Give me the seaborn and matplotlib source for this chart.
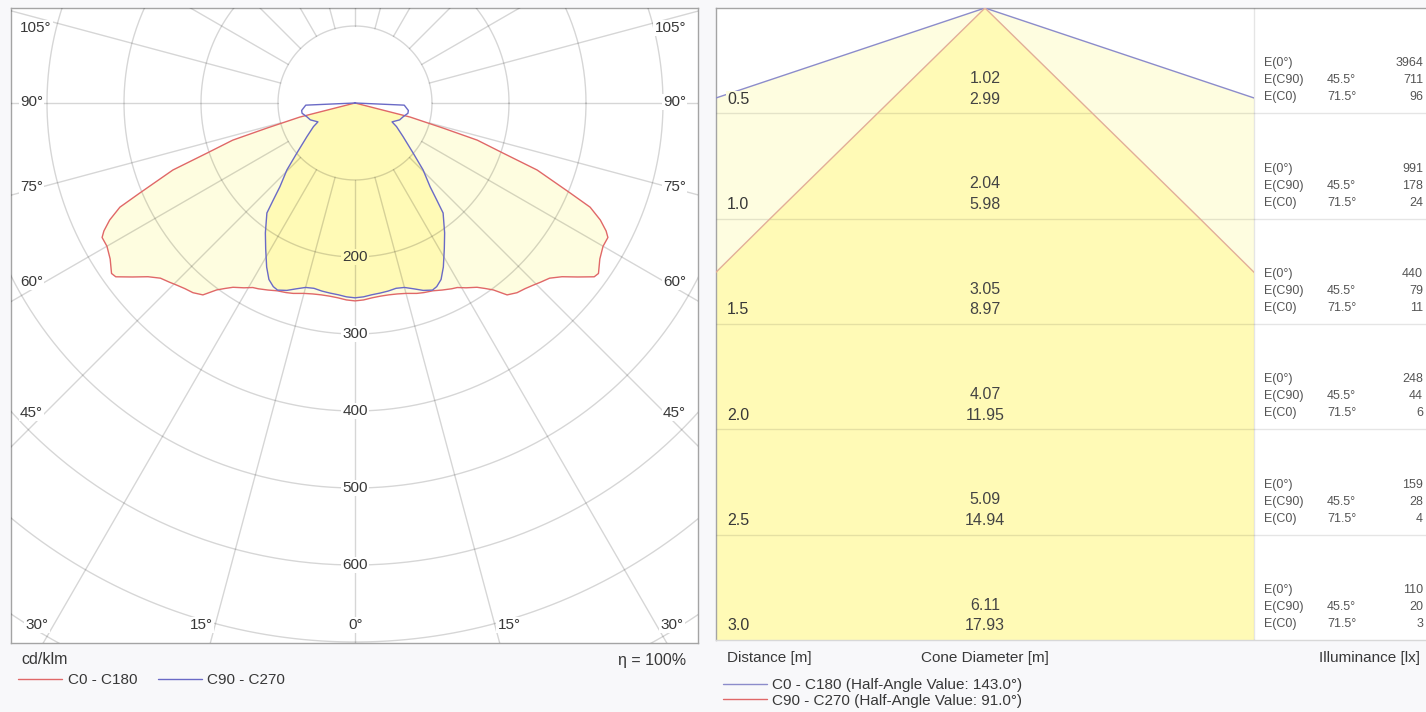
import numpy as np
import pandas as pd
import matplotlib
matplotlib.use("Agg")
import matplotlib.pyplot as plt
from matplotlib.patches import Polygon, Rectangle
from matplotlib.lines import Line2D
import seaborn as sns

sns.set_theme(style="white")
plt.rcParams["font.family"] = ["Liberation Sans", "DejaVu Sans"]

# ---------------- luminous intensity distribution (cd/klm) ----------------
# gamma = 0 deg is the nadir; planes are symmetric, the left half is mirrored
gamma_c0_c180 = [0, 2.5, 5, 7.5, 10, 12.5, 15, 18, 20, 22.5, 25, 27.5, 29, 31,
                 33.5, 35, 36.5, 38.4, 40.5, 42.5, 44.4, 46, 48, 50, 52, 54, 55,
                 57.5, 60, 62, 63, 64.5, 66.1, 67.3, 69.8, 71.3, 73.1, 74.1,
                 75.7, 76.5, 90, 180]
cd_c0_c180 = [257, 256, 254, 253, 253, 254, 256, 260, 262, 264, 268, 272, 274,
              280, 287, 294, 302, 318, 324, 327, 331, 335, 340, 351, 367, 384,
              386, 377, 372, 372, 366, 353, 334, 303, 252, 203, 166, 119, 74,
              0, 0, 0]

gamma_c90_c270 = [0, 2.5, 5, 7.5, 10, 12.5, 15, 17.5, 20, 22.5, 24, 26, 28.3,
                  31.5, 34.6, 38.7, 40.1, 41.9, 45.5, 49.2, 55.1, 60.4, 63,
                  69.3, 74, 79, 82, 85.5, 87.5, 90, 180]
cd_c90_c270 = [253, 252, 250, 249, 248, 246.5, 248, 253, 259, 263, 261, 255,
               242, 222, 205, 183, 165, 146, 124, 100, 76, 62, 54, 62, 65, 70,
               70, 66, 64, 0, 0]

radial_ticks = [200, 300, 400, 500, 600]
grid_circles = [100, 200, 300, 400, 500, 600, 700, 800, 900]
efficiency = 100

# ---------------- cone diagram ----------------
distances = [0.5, 1.0, 1.5, 2.0, 2.5, 3.0]
diam_c90_c270 = [1.02, 2.04, 3.05, 4.07, 5.09, 6.11]
diam_c0_c180 = [2.99, 5.98, 8.97, 11.95, 14.94, 17.93]
beam_c0_c180 = 143.0
beam_c90_c270 = 91.0
e_nadir = [3964, 991, 440, 248, 159, 110]
e_c90 = [711, 178, 79, 44, 28, 20]
e_c0 = [96, 24, 11, 6, 4, 3]

# ---------------- styling ----------------
RED = "#E06868"
BLUE = "#6A6AC6"
CONE_RED = "#E2AE98"
CONE_BLUE = "#8C8CCB"
PALE = "#FEFDE0"
DEEP = "#FFFAB6"
GRID = (0, 0, 0, 0.16)
ROWLINE = (0, 0, 0, 0.10)
FRAME = "#A4A4A4"
TXT = "#383838"
TABLE_TXT = "#555555"

W_PX, H_PX = 1426, 712
fig = plt.figure(figsize=(W_PX / 100, H_PX / 100), dpi=100, facecolor="#F8F8FA")


def fig_rect(x0, y0, x1, y1):
    return [x0 / W_PX, 1 - y1 / H_PX, (x1 - x0) / W_PX, (y1 - y0) / H_PX]


def fx(px):
    return px / W_PX


def fy(py):
    return 1 - py / H_PX


# ======================= polar light distribution =======================
axL = fig.add_axes(fig_rect(11, 8, 698, 643))
CX, CY, S = 355, 103, 0.77          # centre (px) and px per cd/klm
axL.set_xlim((11 - CX) / S, (698 - CX) / S)
axL.set_ylim((CY - 643) / S, (CY - 8) / S)
axL.set_facecolor("white")
axL.set_xticks([])
axL.set_yticks([])
for sp in axL.spines.values():
    sp.set_color(FRAME)
    sp.set_linewidth(1)


def polar_outline(gam, val):
    g = np.radians(np.asarray(gam, float))
    v = np.asarray(val, float)
    xr = v * np.sin(g)
    yr = -v * np.cos(g)
    x = np.concatenate([-xr[::-1], xr[1:]])
    y = np.concatenate([yr[::-1], yr[1:]])
    return x, y


x_r, y_r = polar_outline(gamma_c0_c180, cd_c0_c180)
x_b, y_b = polar_outline(gamma_c90_c270, cd_c90_c270)

outer = Polygon(np.column_stack([x_r, y_r]), closed=True, fc=PALE, ec="none", zorder=1)
axL.add_patch(outer)
inner = Polygon(np.column_stack([x_b, y_b]), closed=True, fc=DEEP, ec="none", zorder=2)
axL.add_patch(inner)
inner.set_clip_path(outer)

# grid: circles and 15-degree rays starting at the first circle
t = np.linspace(0, 2 * np.pi, 721)
for r in grid_circles:
    axL.plot(r * np.cos(t), r * np.sin(t), color=GRID, lw=1, zorder=3)
for a in np.radians(np.arange(0, 360, 15)):
    axL.plot([100 * np.sin(a), 1200 * np.sin(a)], [-100 * np.cos(a), -1200 * np.cos(a)],
             color=GRID, lw=1, zorder=3)

for r in radial_ticks:
    bg = DEEP if r < min(cd_c0_c180[0], cd_c90_c270[0]) else "white"
    axL.text(0, -r, str(r), ha="center", va="center", fontsize=11, color=TXT, zorder=4,
             bbox=dict(fc=bg, ec="none", pad=1.0))

# angle labels along the frame (pixel positions)
side_labels = [("105°", 28), ("90°", 102), ("75°", 187), ("60°", 282), ("45°", 413)]
for txt, py in side_labels:
    yv = (CY - py) / S
    axL.text((20 - CX) / S, yv, txt, ha="left", va="center", fontsize=11, color=TXT,
             zorder=4, bbox=dict(fc="white", ec="none", pad=0.8))
    axL.text((686 - CX) / S, yv, txt, ha="right", va="center", fontsize=11, color=TXT,
             zorder=4, bbox=dict(fc="white", ec="none", pad=0.8))
bottom_labels = [("30°", 37), ("15°", 201), ("0°", 356), ("15°", 509), ("30°", 672)]
for txt, px in bottom_labels:
    axL.text((px - CX) / S, (CY - 625) / S, txt, ha="center", va="center", fontsize=11,
             color=TXT, zorder=4, bbox=dict(fc="white", ec="none", pad=0.8))

# intensity curves
sns.lineplot(x=x_r, y=y_r, sort=False, estimator=None, color=RED, lw=1, ax=axL, zorder=5)
sns.lineplot(x=x_b, y=y_b, sort=False, estimator=None, color=BLUE, lw=1, ax=axL, zorder=6)

fig.text(fx(21), fy(660), "cd/klm", ha="left", va="center", fontsize=11.5, color=TXT)
fig.text(fx(686), fy(660), f"η = {efficiency}%", ha="right", va="center", fontsize=11.5,
         color=TXT)
fig.legend([Line2D([], [], color=RED, lw=1), Line2D([], [], color=BLUE, lw=1)],
           ["C0 - C180", "C90 - C270"], loc="center left",
           bbox_to_anchor=(fx(18), fy(680)), ncol=2, frameon=False, fontsize=11,
           handlelength=2.9, handletextpad=0.35, columnspacing=1.35, borderpad=0,
           borderaxespad=0, labelcolor=TXT)

# ============================ cone diagram ============================
axR = fig.add_axes(fig_rect(716, 8, 1426, 640))
PXM = 632 / distances[-1]            # px per metre
APEX = 985
W = (APEX - 716) / PXM               # half width of the cone area
XMAX = (1426 - APEX) / PXM
axR.set_xlim(-W, XMAX)
axR.set_ylim(distances[-1], 0)
axR.set_facecolor("white")
axR.set_xticks([])
axR.set_yticks([])
for name, sp in axR.spines.items():
    sp.set_color(FRAME)
    sp.set_linewidth(1)
axR.spines["right"].set_visible(False)
axR.spines["bottom"].set_color("#D8D8D8")

dmax = distances[-1]
clip = Rectangle((-W, 0), 2 * W, dmax, transform=axR.transData)
for dia, col, z in [(diam_c0_c180, PALE, 1), (diam_c90_c270, DEEP, 2)]:
    half = dia[-1] / 2
    p = Polygon([(0, 0), (-half, dmax), (half, dmax)], closed=True, fc=col, ec="none",
                zorder=z)
    axR.add_patch(p)
    p.set_clip_path(clip)

axR.hlines(distances[:-1], -W, XMAX, colors=[ROWLINE], lw=1, zorder=3)
axR.vlines(W, 0, dmax, colors=[ROWLINE], lw=1, zorder=3)

for dia, col in [(diam_c0_c180, CONE_BLUE), (diam_c90_c270, CONE_RED)]:
    for sgn in (-1, 1):
        xs = [0] + [sgn * v / 2 for v in dia]
        ys = [0] + distances
        sns.lineplot(x=xs, y=ys, sort=False, estimator=None, color=col, lw=1, ax=axR,
                     zorder=4)
        axR.lines[-1].set_clip_path(clip)

tan_c90 = diam_c90_c270[-1] / (2 * dmax)
lab_x = -W + 11 / PXM
col_label = (1264 - APEX) / PXM
col_angle = (1327 - APEX) / PXM
col_value = (1423 - APEX) / PXM
for i, d in enumerate(distances):
    bg = DEEP if abs(lab_x) <= d * tan_c90 else PALE
    axR.text(lab_x, d - 14 / PXM, f"{d:.1f}", ha="left", va="center", fontsize=11.5,
             color=TXT, zorder=5, bbox=dict(fc=bg, ec="none", pad=0.6))
    axR.text(0, d - 35 / PXM, f"{diam_c90_c270[i]:.2f}", ha="center", va="center",
             fontsize=11.5, color="#444444", zorder=5)
    axR.text(0, d - 14 / PXM, f"{diam_c0_c180[i]:.2f}", ha="center", va="center",
             fontsize=11.5, color="#444444", zorder=5)
    rows = [("E(0°)", "", e_nadir[i], 50),
            ("E(C90)", f"{beam_c90_c270 / 2:.1f}°", e_c90[i], 33),
            ("E(C0)", f"{beam_c0_c180 / 2:.1f}°", e_c0[i], 16)]
    for lab, ang, val, off in rows:
        yv = d - off / PXM
        axR.text(col_label, yv, lab, ha="left", va="center", fontsize=9,
                 color=TABLE_TXT, zorder=5)
        if ang:
            axR.text(col_angle, yv, ang, ha="left", va="center", fontsize=9,
                     color=TABLE_TXT, zorder=5)
        axR.text(col_value, yv, f"{val}", ha="right", va="center", fontsize=9,
                 color=TABLE_TXT, zorder=5)

fig.text(fx(727), fy(658), "Distance [m]", ha="left", va="center", fontsize=11, color=TXT)
fig.text(fx(985), fy(658), "Cone Diameter [m]", ha="center", va="center", fontsize=11,
         color=TXT)
fig.text(fx(1420), fy(658), "Illuminance [lx]", ha="right", va="center", fontsize=11,
         color=TXT)
fig.legend([Line2D([], [], color=CONE_BLUE, lw=1), Line2D([], [], color=RED, lw=1)],
           [f"C0 - C180 (Half-Angle Value: {beam_c0_c180:.1f}°)",
            f"C90 - C270 (Half-Angle Value: {beam_c90_c270:.1f}°)"],
           loc="upper left", bbox_to_anchor=(fx(723), fy(678)), frameon=False,
           fontsize=11, handlelength=2.9, handletextpad=0.3, labelspacing=0.12,
           borderpad=0, borderaxespad=0, labelcolor=TXT)

fig.savefig("out.png", dpi=100, facecolor=fig.get_facecolor())
